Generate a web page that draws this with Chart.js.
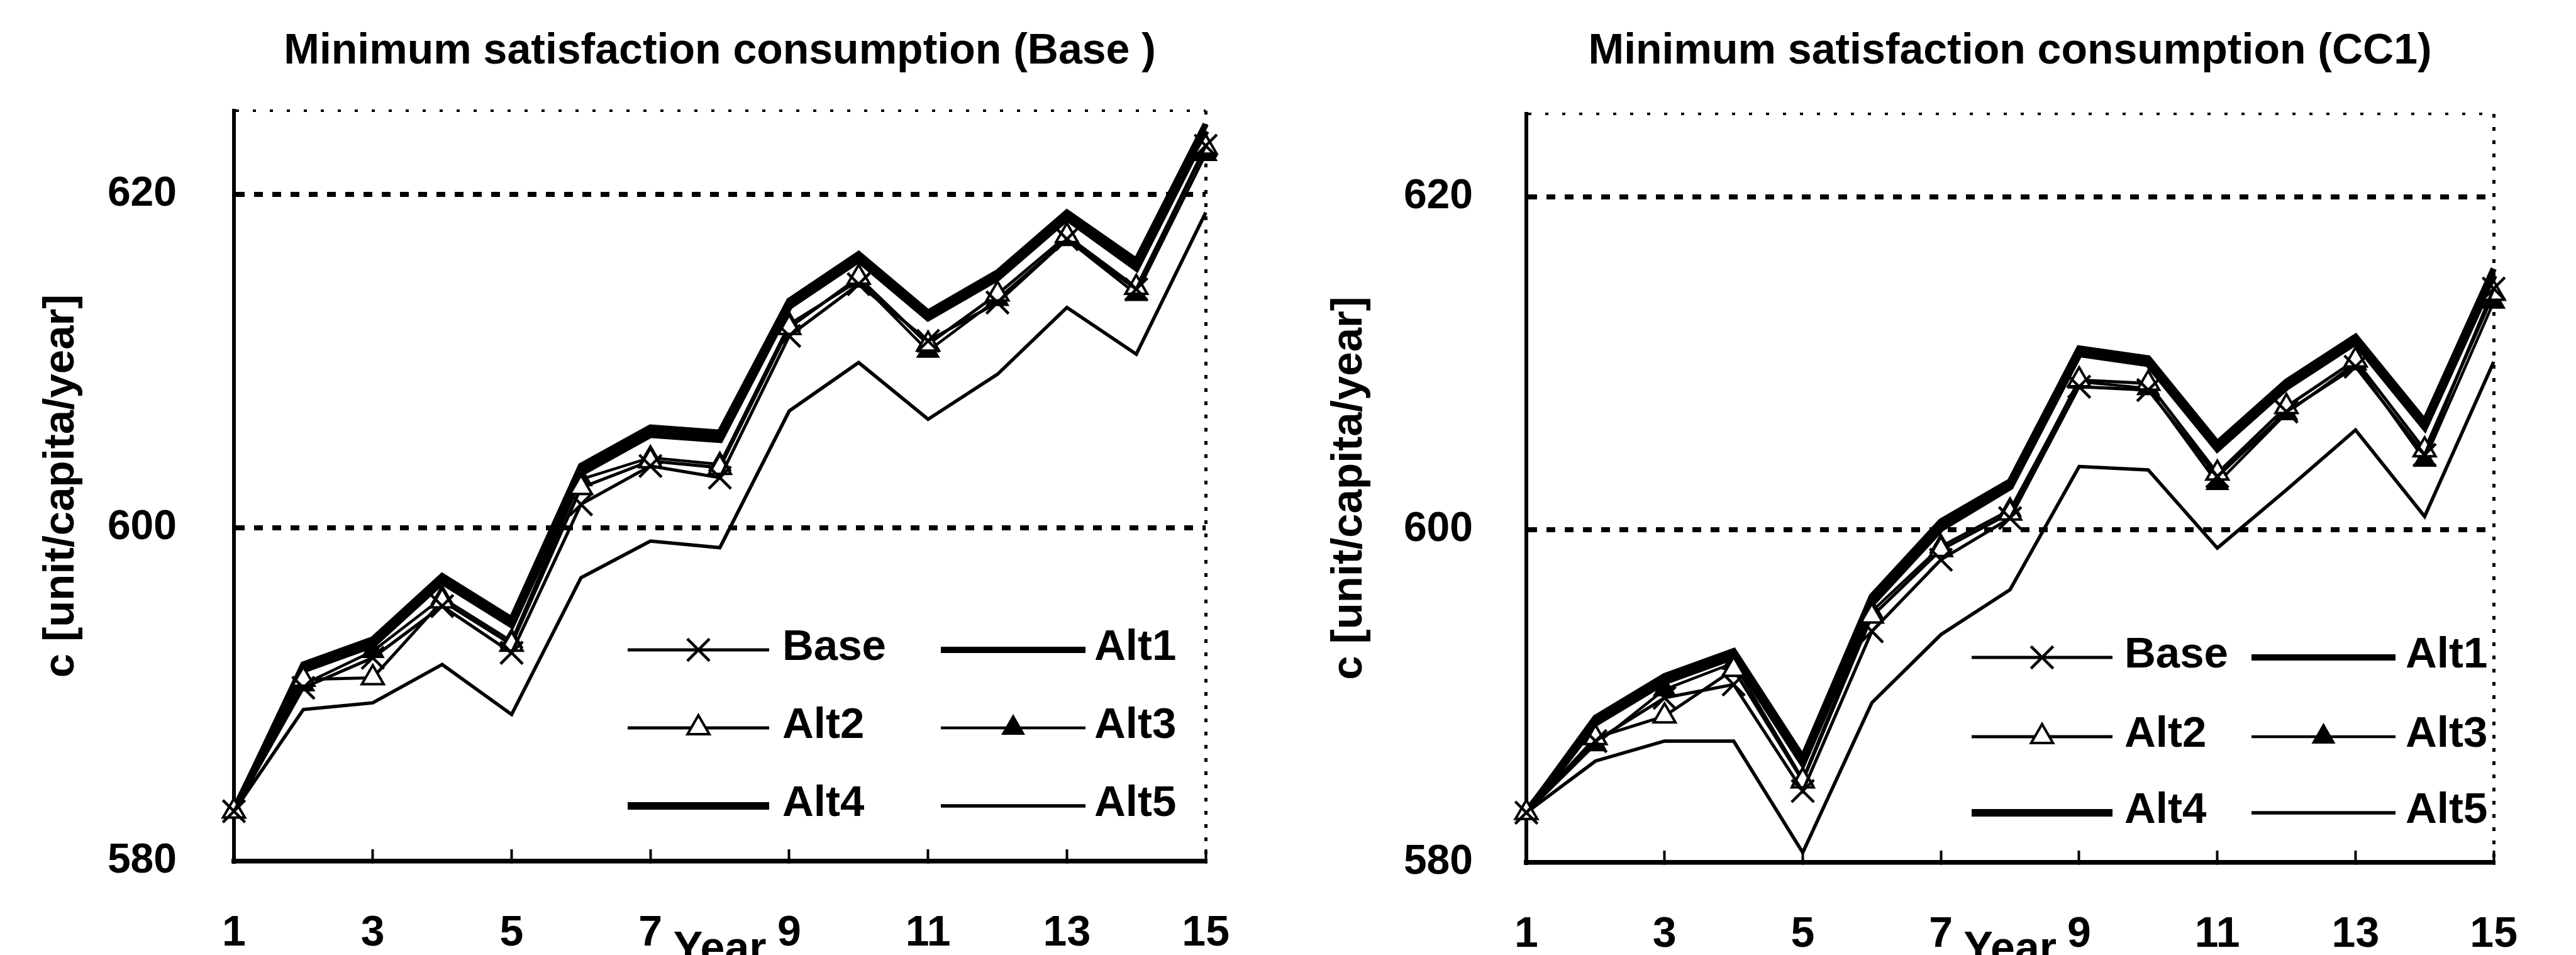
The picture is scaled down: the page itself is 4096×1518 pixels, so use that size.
<!DOCTYPE html>
<html>
<head>
<meta charset="utf-8">
<title>Minimum satisfaction consumption</title>
<script src="https://cdn.jsdelivr.net/npm/chart.js@4.4.1/dist/chart.umd.min.js"></script>
<style>
  html, body { margin: 0; padding: 0; background: #fff; overflow: hidden; }
  #wrap { display: flex; width: 4096px; height: 1518px; }
  canvas { display: block; }
</style>
</head>
<body>
<div id="wrap">
  <canvas id="chartBase" width="2048" height="1518"></canvas>
  <canvas id="chartCC1" width="2048" height="1518"></canvas>
</div>
<script>
const years = ['1', '2', '3', '4', '5', '6', '7', '8', '9', '10', '11', '12', '13', '14', '15'];
const yTicks = [580, 600, 620];
const yMin = 580;
const yMax = 625;
const seriesNames = ['Base', 'Alt1', 'Alt2', 'Alt3', 'Alt4', 'Alt5'];

// Base scenario
const baseBase = [583, 590.4, 592.2, 595.3, 592.5, 601.4, 603.7, 603.0, 611.5, 614.6, 611.2, 613.5, 617.3, 614.3, 622.9];
const baseAlt1 = [583, 591.8, 593.3, 597.1, 594.5, 603.7, 606.0, 605.7, 613.6, 616.4, 612.9, 615.3, 618.9, 616.0, 624.2];
const baseAlt2 = [583, 590.9, 591.0, 595.6, 593.0, 602.4, 604.0, 603.6, 612.0, 615.0, 611.0, 614.0, 617.5, 614.4, 622.8];
const baseAlt3 = [583, 590.6, 592.6, 595.8, 593.2, 602.9, 604.2, 603.8, 612.2, 614.8, 610.6, 613.7, 617.3, 614.0, 622.4];
const baseAlt4 = [583, 591.5, 593.0, 596.8, 594.2, 603.3, 605.6, 605.3, 613.3, 616.1, 612.6, 615.0, 618.6, 615.6, 623.8];
const baseAlt5 = [583, 589.1, 589.5, 591.8, 588.8, 597.0, 599.2, 598.8, 607.0, 609.9, 606.5, 609.2, 613.2, 610.4, 618.9];

// CC1 scenario
const cc1Base = [583, 587.3, 589.9, 590.7, 584.3, 593.9, 598.2, 600.7, 608.6, 608.4, 603.2, 607.1, 609.8, 604.5, 614.5];
const cc1Alt1 = [583, 588.7, 591.2, 592.7, 586.3, 596.0, 600.5, 602.9, 610.9, 610.3, 605.2, 608.9, 611.6, 606.5, 615.7];
const cc1Alt2 = [583, 587.5, 588.8, 591.6, 584.9, 594.8, 598.8, 601.0, 609.0, 608.8, 603.4, 607.4, 610.2, 604.8, 614.2];
const cc1Alt3 = [583, 587.1, 590.4, 592.0, 585.0, 595.1, 599.0, 601.2, 608.9, 608.5, 602.8, 607.0, 610.0, 604.2, 613.7];
const cc1Alt4 = [583, 588.4, 590.9, 592.4, 586.0, 595.6, 600.1, 602.6, 610.6, 610.0, 604.9, 608.6, 611.3, 606.2, 615.3];
const cc1Alt5 = [583, 586.1, 587.3, 587.3, 580.6, 589.6, 593.7, 596.4, 603.8, 603.6, 598.9, 602.4, 606.0, 600.8, 610.1];

const FONT = '"Liberation Sans", Arial, Helvetica, sans-serif';
Chart.defaults.font.family = FONT;
Chart.defaults.color = '#000';

// line / marker look per series (same order as seriesNames)
const seriesStyles = [
  { borderWidth: 5, pointStyle: 'crossRot', pointRadius: 25, pointBorderWidth: 4.5, pointBackgroundColor: '#000', order: 0 },
  { borderWidth: 10, pointRadius: 0, order: 2 },
  { borderWidth: 5, pointStyle: 'triangle', pointRadius: 20, pointBorderWidth: 4, pointBackgroundColor: '#fff', order: 1 },
  { borderWidth: 4.5, pointStyle: 'triangle', pointRadius: 19, pointBorderWidth: 3, pointBackgroundColor: '#000', order: 1 },
  { borderWidth: 12, pointRadius: 0, order: 2 },
  { borderWidth: 5.5, pointRadius: 0, order: 3 }
];

function buildDatasets(series) {
  return seriesNames.map((name, i) => Object.assign({
    label: name,
    data: series[i],
    borderColor: '#000',
    pointBorderColor: '#000',
    pointHoverRadius: 0,
    tension: 0,
    fill: false,
    clip: false
  }, seriesStyles[i]));
}

// two-column legend sitting inside the plot, bottom right
const cornerLegend = {
  id: 'cornerLegend',
  afterDatasetsDraw(chart, args, opts) {
    const ctx = chart.ctx;
    chart.data.datasets.forEach((ds, i) => {
      const col = opts.columns[i % 2];
      const y = opts.rows[Math.floor(i / 2)];
      ctx.save();
      ctx.strokeStyle = ds.borderColor;
      ctx.lineWidth = ds.borderWidth;
      ctx.beginPath();
      ctx.moveTo(col.from, y);
      ctx.lineTo(col.to, y);
      ctx.stroke();
      if (ds.pointRadius > 0) {
        ctx.fillStyle = ds.pointBackgroundColor;
        ctx.strokeStyle = ds.pointBorderColor;
        ctx.lineWidth = ds.pointBorderWidth;
        Chart.helpers.drawPoint(ctx, {
          pointStyle: ds.pointStyle,
          radius: ds.pointRadius,
          borderWidth: ds.pointBorderWidth,
          rotation: 0
        }, (col.from + col.to) / 2, y);
      }
      ctx.fillStyle = '#000';
      ctx.font = 'bold ' + opts.fontSize + 'px ' + FONT;
      ctx.textAlign = 'left';
      ctx.textBaseline = 'middle';
      ctx.fillText(ds.label, col.text, y + opts.textShift);
      ctx.restore();
    });
  }
};

function makeChart(id, title, series, g) {
  const height = 1518;
  const titleLine = 68 * 1.2;
  return new Chart(document.getElementById(id), {
    type: 'line',
    data: { labels: years, datasets: buildDatasets(series) },
    plugins: [cornerLegend],
    options: {
      responsive: false,
      animation: false,
      events: [],
      layout: { padding: { left: 0, right: g.padRight, top: 0, bottom: 0 } },
      plugins: {
        legend: { display: false },
        tooltip: { enabled: false },
        title: {
          display: true,
          fullSize: false,
          text: title,
          color: '#000',
          font: { size: 68, weight: 'bold' },
          padding: { top: 41, bottom: g.top - 41 - titleLine }
        },
        cornerLegend: { columns: g.legendCols, rows: g.legendRows, fontSize: 69, textShift: -3 }
      },
      scales: {
        x: {
          type: 'category',
          afterFit: s => { s.height = height - g.bottom; },
          ticks: {
            autoSkip: false,
            maxRotation: 0,
            padding: 93,
            font: { size: 68, weight: 'bold' },
            callback: (v, i) => (i % 2 === 0 ? years[i] : '')
          },
          grid: {
            drawOnChartArea: true,
            drawTicks: true,
            tickLength: -19,
            tickWidth: 4,
            tickColor: c => (c.index % 2 === 0 ? '#000' : 'rgba(0,0,0,0)'),
            // only the closing line on the right is shown
            color: c => (c.index === years.length - 1 ? '#000' : 'rgba(0,0,0,0)'),
            lineWidth: 5
          },
          border: { display: true, color: '#000', width: 7.5, dash: [6, 15] },
          title: {
            display: true,
            text: 'Year',
            font: { size: 70, weight: 'bold' },
            padding: { top: 0, bottom: -35 }
          }
        },
        y: {
          type: 'linear',
          min: yMin,
          max: yMax,
          afterBuildTicks: s => { s.ticks = yTicks.concat([yMax]).map(v => ({ value: v })); },
          afterFit: s => { s.width = g.left; },
          ticks: {
            padding: g.yPad,
            font: { size: 66, weight: 'bold' },
            callback: v => (yTicks.includes(v) ? String(v) : '')
          },
          grid: {
            drawTicks: false,
            color: c => (c.tick && c.tick.value === yMin ? 'rgba(0,0,0,0)' : '#000'),
            lineWidth: c => (c.tick && c.tick.value === yMax ? 4 : 8)
          },
          border: {
            display: true,
            color: '#000',
            width: 6,
            dash: c => (c.tick && c.tick.value === yMax ? [5, 22] : [14, 15])
          },
          title: {
            display: true,
            text: 'c [unit/capita/year]',
            font: { size: 69, weight: 'bold' },
            padding: { top: 57, bottom: 0 }
          }
        }
      }
    }
  });
}

makeChart('chartBase', 'Minimum satisfaction consumption (Base )',
  [baseBase, baseAlt1, baseAlt2, baseAlt3, baseAlt4, baseAlt5], {
    left: 372, padRight: 85, top: 176, bottom: 1369, yPad: 91,
    legendCols: [{ from: 998, to: 1223, text: 1244 }, { from: 1496, to: 1726, text: 1740 }],
    legendRows: [1033, 1157, 1281]
  });

makeChart('chartCC1', 'Minimum satisfaction consumption (CC1)',
  [cc1Base, cc1Alt1, cc1Alt2, cc1Alt3, cc1Alt4, cc1Alt5], {
    left: 379, padRight: 67, top: 181, bottom: 1371, yPad: 85,
    legendCols: [{ from: 1087, to: 1311, text: 1330 }, { from: 1532, to: 1761, text: 1777 }],
    legendRows: [1045, 1171, 1292]
  });
</script>
</body>
</html>
